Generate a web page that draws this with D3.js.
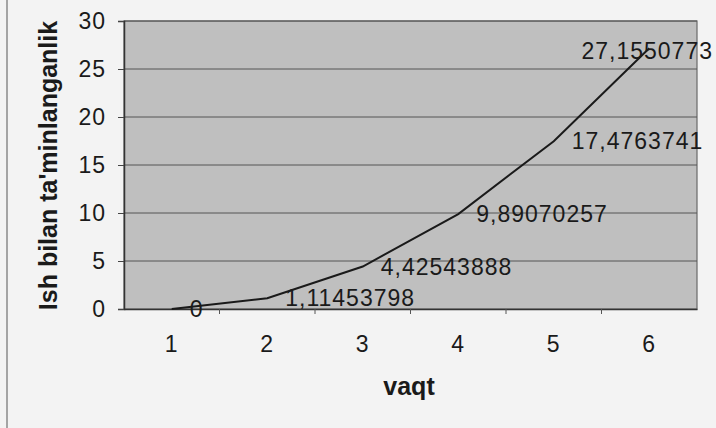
<!DOCTYPE html>
<html><head><meta charset="utf-8">
<script src="https://cdn.jsdelivr.net/npm/d3@7"></script>
<style>
html,body{margin:0;padding:0;background:#f3f3f3;}
svg{display:block;}
text{font-family:"Liberation Sans",Arial,sans-serif;fill:#1a1a1a;}
</style></head>
<body>
<svg id="c" width="716" height="428"></svg>
<script>
const categories = [1, 2, 3, 4, 5, 6];
const values = [0, 1.11453798, 4.42543888, 9.89070257, 17.4763741, 27.1550773];
const valueLabels = ["0", "1,11453798", "4,42543888", "9,89070257", "17,4763741", "27,1550773"];
const yTicks = [0, 5, 10, 15, 20, 25, 30];
const xTitle = "vaqt";
const yTitle = "Ish bilan ta'minlanganlik";

const svg = d3.select("#c");
const W = 716, H = 428;
const m = {left: 124, right: 19, top: 21, bottom: 119};
const x = d3.scaleBand().domain(categories).range([m.left, W - m.right]).padding(0);
const y = d3.scaleLinear().domain([0, 30]).range([H - m.bottom, m.top]);

svg.append("rect").attr("width", W).attr("height", H).attr("fill", "#f3f3f3");
svg.append("line").attr("x1", 7).attr("x2", 7).attr("y1", 0).attr("y2", H)
  .attr("stroke", "#8a8a8a").attr("stroke-width", 1.5);

// plot area
svg.append("rect").attr("x", m.left).attr("y", m.top)
  .attr("width", W - m.left - m.right).attr("height", H - m.top - m.bottom)
  .attr("fill", "#bfbfbf").attr("stroke", "#6a6a6a").attr("stroke-width", 1.2);

// gridlines
svg.append("g").selectAll("line").data(yTicks.filter(d => d > 0)).join("line")
  .attr("x1", m.left).attr("x2", W - m.right)
  .attr("y1", d => y(d)).attr("y2", d => y(d))
  .attr("stroke", "#555").attr("stroke-width", 1);

// y axis
const ya = svg.append("g").attr("transform", `translate(${m.left},0)`)
  .call(d3.axisLeft(y).tickValues(yTicks).tickSize(6).tickPadding(12));
ya.select(".domain").attr("stroke", "#333").attr("stroke-width", 1.5);
ya.selectAll(".tick line").attr("stroke", "#444");
ya.selectAll("text").attr("font-size", 23).attr("letter-spacing", "1px")
  .attr("fill", "#1a1a1a").attr("font-family", '"Liberation Sans",Arial,sans-serif');

// x axis
const xa = svg.append("g").attr("transform", `translate(0,${y(0)})`)
  .call(d3.axisBottom(x).tickSize(0).tickPadding(27));
xa.select(".domain").attr("stroke", "#333").attr("stroke-width", 1.5);
xa.selectAll("text").attr("font-size", 23).attr("letter-spacing", "1px")
  .attr("fill", "#1a1a1a").attr("font-family", '"Liberation Sans",Arial,sans-serif');
svg.append("g").selectAll("line").data(categories.slice(1)).join("line")
  .attr("x1", d => x(d)).attr("x2", d => x(d))
  .attr("y1", y(0)).attr("y2", y(0) + 5).attr("stroke", "#555");

// line
const pts = categories.map((c, i) => [x(c) + x.bandwidth() / 2, y(values[i])]);
svg.append("path").datum(pts)
  .attr("d", d3.line())
  .attr("fill", "none").attr("stroke", "#1a1a1a").attr("stroke-width", 2);

// data labels
const lbl = svg.append("g").selectAll("text").data(pts).join("text")
  .attr("font-size", 23).attr("letter-spacing", "1px")
  .attr("dominant-baseline", "central")
  .attr("y", (d, i) => d[1] + (i === 5 ? 3 : 0))
  .text((d, i) => valueLabels[i]);
lbl.each(function(d) {
  const w = this.getComputedTextLength();
  let x0 = d[0] + 18;
  if (x0 + w > 713) x0 = 713 - w;
  d3.select(this).attr("x", x0);
});

// titles
svg.append("text").attr("x", 409).attr("y", 395).attr("text-anchor", "middle")
  .attr("font-size", 25).attr("font-weight", "bold").text(xTitle);
svg.append("text").attr("transform", `translate(57,${(20 + 311) / 2}) rotate(-90)`)
  .attr("text-anchor", "middle").attr("font-size", 25).attr("font-weight", "bold").text(yTitle);
</script>
</body></html>
